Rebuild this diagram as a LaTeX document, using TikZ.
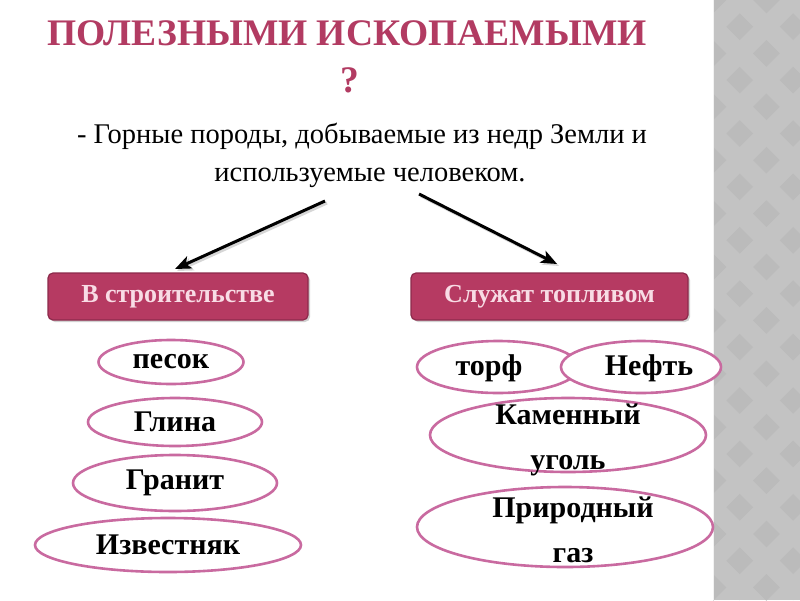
\documentclass[tikz,border=0pt]{standalone}
\usepackage{fontspec}
\setmainfont{Liberation Serif}
\usetikzlibrary{arrows.meta,shapes.geometric}
\definecolor{titlecol}{HTML}{B23B62}
\definecolor{boxfill}{HTML}{B63A62}
\definecolor{boxedge}{HTML}{8C2A4B}
\definecolor{boxtext}{HTML}{F8DCE5}
\definecolor{ovaledge}{HTML}{C96AA0}
\definecolor{stripbase}{HTML}{C3C3C3}
\definecolor{stripdark}{HTML}{BBBBBB}
\begin{document}
\begin{tikzpicture}[x=1pt,y=-1pt,
  title/.style={font=\fontsize{37.5}{40}\selectfont\bfseries, text=titlecol, inner sep=0pt},
  body/.style={font=\fontsize{28.5}{38}\selectfont, align=center, inner sep=0pt},
  catbox/.style={draw=boxedge, line width=1.2pt, fill=boxfill, rounded corners=5pt,
     text=boxtext, font=\fontsize{26}{28}\selectfont\bfseries, inner sep=0pt},
  oval/.style={ellipse, draw=ovaledge, line width=2.6pt, fill=white, inner sep=0pt,
     font=\fontsize{30}{34}\selectfont\bfseries},
  lbl/.style={font=\fontsize{30}{45}\selectfont\bfseries, align=center, inner sep=0pt},
  arr/.style={line width=3pt, -{Stealth[length=16pt,width=13pt,inset=4pt]}},
  arrshadow/.style={line width=3pt, draw=black!35, opacity=0.45, -{Stealth[length=16pt,width=13pt,inset=4pt]}}
]
\useasboundingbox (0,0) rectangle (800,600);
\fill[white] (0,0) rectangle (800,600);
% decorative strip
\begin{scope}
  \clip (713,0) rectangle (800,600);
  \fill[stripbase] (713,0) rectangle (800,600);
  \foreach \i in {0,...,4}{
    \foreach \j in {0,...,23}{
      \pgfmathparse{int(mod(\i+\j,2))}
      \ifnum\pgfmathresult=0
        \fill[stripdark] ({713+\i*26.7},{\j*26.7-13.35}) -- ++(13.35,13.35) -- ++(-13.35,13.35) -- ++(-13.35,-13.35) -- cycle;
      \fi
    }
  }
\end{scope}
\draw[white!90!gray, line width=1pt] (713.5,0) -- (713.5,600);

% title
\node[title] (t1) at (347,33) {ПОЛЕЗНЫМИ ИСКОПАЕМЫМИ};
\node[title] (t2) at (350,80) {?};
% definition
\node[body] (def) at (362,155) {- Горные породы, добываемые из недр Земли и\\ \hspace{16pt}используемые человеком.};

% category boxes
\fill[black, opacity=0.18, rounded corners=5pt] (50,275) rectangle (310,322);
\fill[black, opacity=0.18, rounded corners=5pt] (413,275) rectangle (690,322);
\node[catbox, minimum width=260, minimum height=47] (b1) at (178,296.5) {В строительстве};
\node[catbox, minimum width=277, minimum height=47] (b2) at (549.5,296.5) {Служат топливом};

% arrows
\coordinate (a1s) at (325,201);
\coordinate (a1e) at (175,269);
\coordinate (a2s) at (419,194);
\coordinate (a2e) at (557,264);
\coordinate (a1ss) at (327,203);
\coordinate (a1es) at (177,271);
\coordinate (a2ss) at (421,196);
\coordinate (a2es) at (559,266);
\draw[arrshadow] (a1ss) -- (a1es);
\draw[arrshadow] (a2ss) -- (a2es);
\draw[arr] (a1s) -- (a1e);
\draw[arr] (a2s) -- (a2e);

% left ovals
\node[oval, minimum width=145, minimum height=44] (o1) at (171,362) {песок};
\node[oval, minimum width=174, minimum height=48] (o2) at (175,422) {Глина};
\node[oval, minimum width=204, minimum height=56] (o3) at (175,483) {Гранит};
\node[oval, minimum width=266, minimum height=54] (o4) at (168,545) {Известняк};

% right ovals
\node[oval, minimum width=162, minimum height=52] (o5) at (498,367) {};
\node[oval, minimum width=160, minimum height=52] (o6) at (641,367) {};
\node[lbl] (l5) at (489,368) {торф};
\node[lbl] (l6) at (649,368) {Нефть};
\node[oval, minimum width=276, minimum height=74] (o7) at (568,435) {};
\node[lbl] (l7) at (568,440) {Каменный\\уголь};
\node[oval, minimum width=296, minimum height=80] (o8) at (565,527) {};
\node[lbl] (l8) at (573,530) {Природный\\газ};
\end{tikzpicture}
\end{document}
